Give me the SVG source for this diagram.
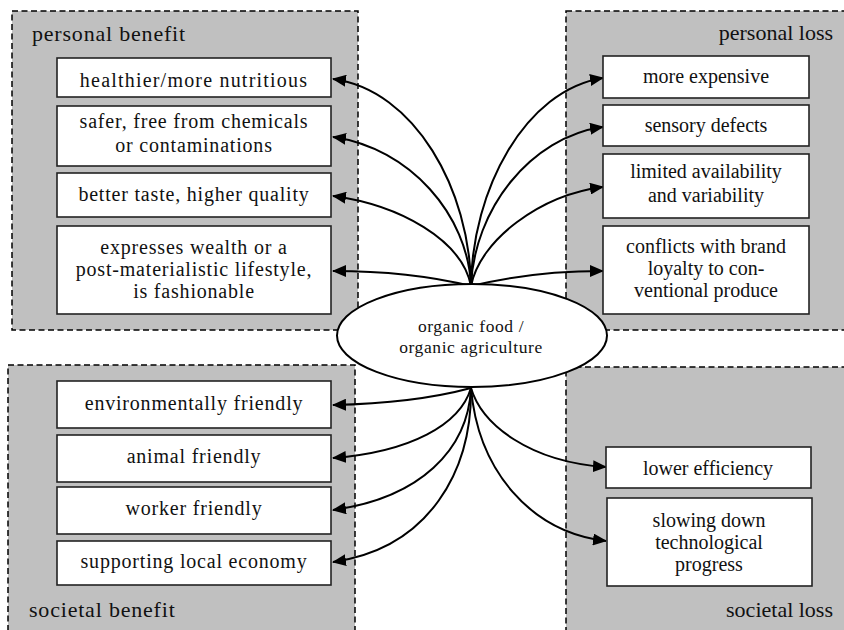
<svg xmlns="http://www.w3.org/2000/svg" width="844" height="630" viewBox="0 0 844 630">
<style>
.panel{fill:#c0c0c0;stroke:#000;stroke-width:1.5;stroke-dasharray:6 3.5}
.box{fill:#fff;stroke:#222;stroke-width:1.6}
.t{font-family:"Liberation Serif","Times New Roman",serif;font-size:20px;fill:#111;text-anchor:middle}
.p{letter-spacing:0.8px}
.h{font-size:22px}
.c{fill:none;stroke:#000;stroke-width:2;marker-end:url(#ah)}
</style>
<defs>
<marker id="ah" markerUnits="userSpaceOnUse" markerWidth="14" markerHeight="12" refX="13" refY="6" orient="auto">
<path d="M0,0 L14,6 L0,12 z" fill="#000"/>
</marker>
</defs>
<rect width="844" height="630" fill="#fff"/>
<g id="panels">
<rect id="panel-personal-benefit" class="panel" x="12" y="11" width="346" height="319"/>
<rect id="panel-personal-loss" class="panel" x="566" y="11" width="290" height="319"/>
<rect id="panel-societal-benefit" class="panel" x="8" y="365" width="347" height="280"/>
<rect id="panel-societal-loss" class="panel" x="566" y="367" width="290" height="280"/>
<text class="t p h" x="32" y="41" style="text-anchor:start">personal benefit</text>
<text class="t h" x="833" y="40" style="text-anchor:end">personal loss</text>
<text class="t p h" x="29" y="617" style="text-anchor:start">societal benefit</text>
<text class="t h" x="833" y="617" style="text-anchor:end">societal loss</text>
</g>
<g id="connectors">
<path class="c" d="M471,286 C470,190 415,90 333,79"/>
<path class="c" d="M471,286 C468,215 410,148 333,137"/>
<path class="c" d="M471,286 C462,240 400,205 333,196"/>
<path class="c" d="M471,286 C430,276 380,271 333,271"/>
<path class="c" d="M471,286 C472,190 525,90 603,78"/>
<path class="c" d="M471,286 C474,210 530,137 603,127"/>
<path class="c" d="M471,286 C480,240 540,195 603,187"/>
<path class="c" d="M471,286 C512,276 560,271 603,271"/>
<path class="c" d="M471,388 C430,399 380,404 333,405"/>
<path class="c" d="M471,388 C460,425 410,452 333,458"/>
<path class="c" d="M471,388 C468,450 420,498 333,510"/>
<path class="c" d="M471,388 C472,470 430,548 333,562"/>
<path class="c" d="M471,388 C482,425 530,462 606,467"/>
<path class="c" d="M471,388 C478,470 530,532 606,541"/>
</g>
<g id="center">
<ellipse cx="472" cy="335.5" rx="135" ry="51.5" fill="#fff" stroke="#000" stroke-width="2"/>
<text class="t p" x="471" y="332" style="font-size:17.5px;letter-spacing:0.6px">organic food /</text>
<text class="t p" x="471" y="353" style="font-size:17.5px;letter-spacing:0.6px">organic agriculture</text>
</g>
<g id="n-healthier">
<rect class="box" x="57" y="58" width="274" height="39"/>
<text class="t p" x="194" y="87" style="letter-spacing:1.2px">healthier/more nutritious</text>
</g>
<g id="n-safer">
<rect class="box" x="57" y="106" width="274" height="60"/>
<text class="t p" x="194" y="128">safer, free from chemicals</text>
<text class="t p" x="194" y="152">or contaminations</text>
</g>
<g id="n-taste">
<rect class="box" x="57" y="173" width="274" height="44"/>
<text class="t p" x="194" y="201">better taste, higher quality</text>
</g>
<g id="n-wealth">
<rect class="box" x="57" y="226" width="274" height="88"/>
<text class="t p" x="194" y="254">expresses wealth or a</text>
<text class="t p" x="194" y="276">post-materialistic lifestyle,</text>
<text class="t p" x="194" y="298">is fashionable</text>
</g>
<g id="n-expensive">
<rect class="box" x="603" y="56" width="206" height="42"/>
<text class="t" x="706" y="83">more expensive</text>
</g>
<g id="n-sensory">
<rect class="box" x="603" y="105" width="206" height="41"/>
<text class="t" x="706" y="132">sensory defects</text>
</g>
<g id="n-limited">
<rect class="box" x="603" y="154" width="206" height="64"/>
<text class="t" x="706" y="178">limited availability</text>
<text class="t" x="706" y="202">and variability</text>
</g>
<g id="n-brand">
<rect class="box" x="603" y="226" width="206" height="88"/>
<text class="t" x="706" y="253">conflicts with brand</text>
<text class="t" x="706" y="275">loyalty to con-</text>
<text class="t" x="706" y="297">ventional produce</text>
</g>
<g id="n-environment">
<rect class="box" x="57" y="381" width="274" height="47"/>
<text class="t p" x="194" y="410">environmentally friendly</text>
</g>
<g id="n-animal">
<rect class="box" x="57" y="435" width="274" height="47"/>
<text class="t p" x="194" y="463">animal friendly</text>
</g>
<g id="n-worker">
<rect class="box" x="57" y="487" width="274" height="47"/>
<text class="t p" x="194" y="515">worker friendly</text>
</g>
<g id="n-local">
<rect class="box" x="57" y="541" width="274" height="44"/>
<text class="t p" x="194" y="568">supporting local economy</text>
</g>
<g id="n-efficiency">
<rect class="box" x="606" y="447" width="205" height="41"/>
<text class="t" x="708" y="475">lower efficiency</text>
</g>
<g id="n-slowing">
<rect class="box" x="607" y="498" width="205" height="88"/>
<text class="t" x="709" y="527">slowing down</text>
<text class="t" x="709" y="549">technological</text>
<text class="t" x="709" y="571">progress</text>
</g>
</svg>
